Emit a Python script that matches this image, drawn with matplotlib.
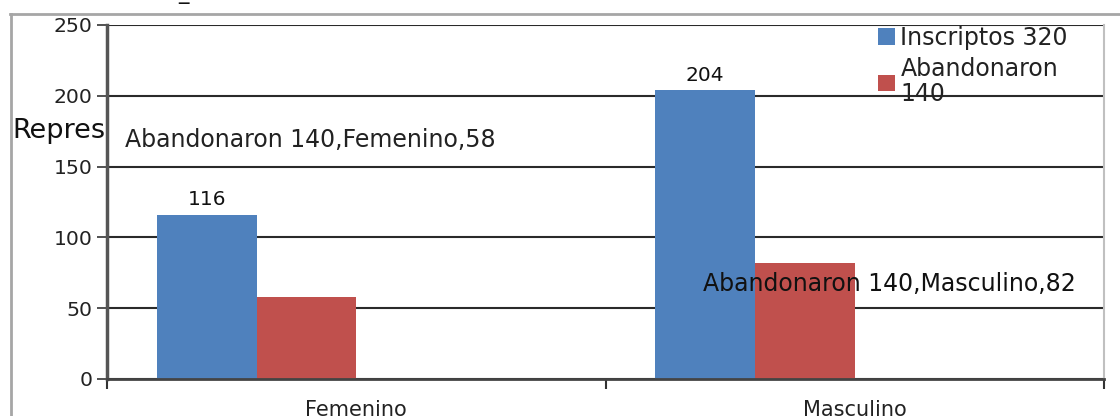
import matplotlib
matplotlib.use('Agg')
import matplotlib.pyplot as plt
import numpy as np
from matplotlib.lines import Line2D
from matplotlib.patches import Patch

categories = ['Femenino', 'Masculino']
inscriptos = [116, 204]
abandonaron = [58, 82]
series_labels = ['Inscriptos 320', 'Abandonaron\n140']
yticks = [0, 50, 100, 150, 200, 250]
ann_texts = ['Abandonaron 140,Femenino,58', 'Abandonaron 140,Masculino,82']
ylabel_text = 'Repres'
title_text = '_'

plt.rcParams['font.family'] = ['DejaVu Sans']

W, H = 1120, 416
fig = plt.figure(figsize=(W / 100, H / 100), dpi=100)
ax = fig.add_axes([107 / W, 1 - 379 / H, (1104 - 107) / W, (379 - 25) / H])

blue = '#4F81BD'
red = '#C0504D'
x = np.arange(len(categories))
w = 0.2
b1 = ax.bar(x - 1.5 * w, inscriptos, w, color=blue, zorder=2)
b2 = ax.bar(x - 0.5 * w, abandonaron, w, color=red, zorder=2)

ax.set_xlim(-0.5, 1.5)
ax.set_ylim(0, 250)
ax.set_yticks(yticks)
ax.yaxis.grid(True, color='#2a2a2a', lw=1.5)
ax.set_axisbelow(True)

ax.set_xticks([-0.5, 0.5, 1.5])
ax.set_xticklabels([])
ax.set_xticks(x, minor=True)
ax.set_xticklabels(categories, minor=True)
ax.tick_params(axis='x', which='major', length=7, width=1.5, color='#333333', direction='out')
ax.tick_params(axis='x', which='minor', length=0, pad=15, labelsize=15, labelcolor='#222222')
ax.tick_params(axis='y', length=7, width=1.2, color='#333333', pad=3.5, labelsize=14.7, labelcolor='#222222')

ax.spines['top'].set_visible(False)
ax.spines['right'].set_color('#c0c0c0')
ax.spines['right'].set_linewidth(1.5)
ax.spines['left'].set_color('#555555')
ax.spines['left'].set_linewidth(2.5)
ax.spines['bottom'].set_color('#444444')
ax.spines['bottom'].set_linewidth(2)

ax.bar_label(b1, labels=[str(v) for v in inscriptos], padding=4, fontsize=14.5, color='#111111')

# data-label annotations
ax.text(-0.464, 169, ann_texts[0], fontsize=17, va='center', ha='left', color='#222222', zorder=3)
ax.text(0.696, 67.3, ann_texts[1], fontsize=17, va='center', ha='left', color='#111111', zorder=3)

# legend
handles = [Patch(facecolor=blue), Patch(facecolor=red)]
leg = ax.legend(handles, series_labels, loc='upper left',
                bbox_to_anchor=(878 / W, 1 - 26 / H), bbox_transform=fig.transFigure,
                frameon=False, fontsize=17, handlelength=0.7, handleheight=0.7,
                handletextpad=0.25, borderpad=0, borderaxespad=0, labelspacing=0.3)
for t in leg.get_texts():
    t.set_linespacing(1.05)
    t.set_color('#222222')

# truncated y label and title
fig.text(12 / W, 1 - 131 / H, ylabel_text, fontsize=19.5, va='center', ha='left', color='#111111', zorder=0)
fig.text(184 / W, 1 + 1 / H, title_text, fontsize=15, va='baseline', ha='center', color='#111111')

# outer frame
fig.add_artist(Line2D([10 / W, 1], [1 - 14 / H] * 2, transform=fig.transFigure, color='#a6a6a6', lw=2))
fig.add_artist(Line2D([11 / W] * 2, [0, 1 - 14 / H], transform=fig.transFigure, color='#a6a6a6', lw=2))

fig.savefig('out.png', dpi=100)
